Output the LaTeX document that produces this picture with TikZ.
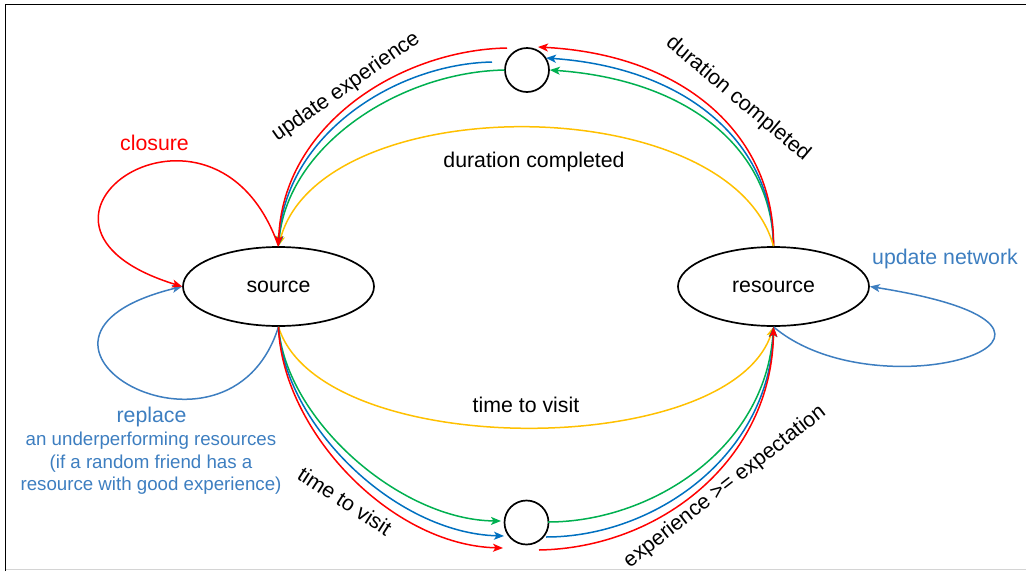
\documentclass[tikz,border=0pt]{standalone}
\usepackage{fontspec}
\setmainfont{Liberation Sans}
\usetikzlibrary{arrows.meta,shapes.geometric}
\definecolor{cred}{HTML}{FF0000}
\definecolor{cblue}{HTML}{0070C0}
\definecolor{cgreen}{HTML}{00B050}
\definecolor{cgold}{HTML}{FFC000}
\definecolor{cloop}{HTML}{3D7EC0}
\definecolor{cframe}{HTML}{D4D4D4}

\begin{document}
\begin{tikzpicture}[x=1pt,y=-1pt,
  state/.style={draw=black, line width=1.7pt, ellipse, minimum width=191pt,
    minimum height=79pt, inner sep=0pt, font=\fontsize{21.3}{25}\selectfont},
  hub/.style={draw=black, line width=1.7pt, circle, minimum size=44pt, inner sep=0pt},
  lbl/.style={inner sep=0pt, font=\fontsize{21.3}{25}\selectfont},
  note/.style={inner sep=0pt, font=\fontsize{18.7}{22.6}\selectfont, align=center, text=cloop},
  flow/.style={line width=1.5pt, -{Stealth[length=10pt,width=8pt,inset=2.5pt]}},
]
\useasboundingbox (0,0) rectangle (1026,571);

% frame
\draw[cframe, line width=1.5pt] (5.5,569.5) -- (1026,569.5);
\draw[line width=1.2pt] (5.5,571) -- (5.5,4.5) -- (1026,4.5);

% states and hubs
\node[state] (src) at (278.5,286.5) {\raisebox{-1.5pt}{source}};
\node[state] (res) at (773.5,286.5) {\raisebox{-1.5pt}{resource}};
\node[hub] (c1) at (527,70) {};
\node[hub] (c2) at (526.5,522.5) {};

% free ends next to the hubs
\coordinate (tBin) at (546,58);
\coordinate (tRin) at (538,47);
\coordinate (tGout) at (504.5,70);
\coordinate (tBout) at (492,62);
\coordinate (tRout) at (507,48);
\coordinate (bGin) at (501,521);
\coordinate (bBin) at (504,536);
\coordinate (bRin) at (503,548);
\coordinate (bGout) at (548,522);
\coordinate (bBout) at (546,537);
\coordinate (bRout) at (539,550);

% resource -> top hub
\draw[flow,cgreen] (res.north) .. controls (772,150) and (690,80) .. (c1.east);
\draw[flow,cblue] (res.north) .. controls (773,145) and (690,68) .. (tBin);
\draw[flow,cred] (res.north) .. controls (775,140) and (690,55) .. (tRin);

% top hub -> source
\draw[flow,cgold] (res.north) .. controls (730,88) and (320,88) .. (src.north);
\draw[flow,cgreen] (tGout) .. controls (400,72) and (288,145) .. (src.north);
\draw[flow,cblue] (tBout) .. controls (395,64) and (285,135) .. (src.north);

% self loops of source
\draw[flow,cloop] (src.south) .. controls (227.5,487.5) and (-28,338) .. (src.west);
\draw[flow,cred] (src.north) .. controls (214,62) and (-22,224) .. (src.west);
\draw[flow,cred] (tRout) .. controls (400,50) and (282,125) .. (src.north);

% source -> bottom hub
\draw[flow,cgold] (src.south) .. controls (320,461) and (730,461) .. (res.south);
\draw[flow,cgreen] (src.south) .. controls (286,420) and (400,520) .. (bGin);
\draw[flow,cblue] (src.south) .. controls (284,425) and (395,533) .. (bBin);
\draw[flow,cred] (src.south) .. controls (282,430) and (390,545) .. (bRin);

% self loop of resource
\draw[flow,cloop] (res.south) .. controls (880,417) and (1149,330.8) .. (res.east);

% bottom hub -> resource
\draw[flow,cgreen] (bGout) .. controls (650,522) and (765,450) .. (res.south);
\draw[flow,cblue] (bBout) .. controls (655,537) and (770,455) .. (res.south);
\draw[flow,cred] (bRout) .. controls (660,548) and (772,460) .. (res.south);

% labels
\node[lbl] (lDurTop) at (534,162) {duration completed};
\node[lbl] (lVisit) at (526,405) {time to visit};
\node[lbl, rotate=35] (lUpd) at (346,87) {update experience};
\node[lbl, rotate=-40] (lDur) at (738,99) {duration completed};
\node[lbl, rotate=-33] (lTime) at (345,501) {time to visit};
\node[lbl, rotate=38] (lExp) at (725,487) {experience >= expectation};
\node[lbl, text=cred] (lClos) at (154.5,143) {closure};
\node[lbl, text=cloop] (lRep) at (151.5,416.5) {replace};
\node[note] (lRepNote) at (151,463.5) {an underperforming resources\\(if a random friend has a\\resource with good experience)};
\node[lbl, text=cloop] (lNet) at (945,259) {update network};
\end{tikzpicture}
\end{document}
